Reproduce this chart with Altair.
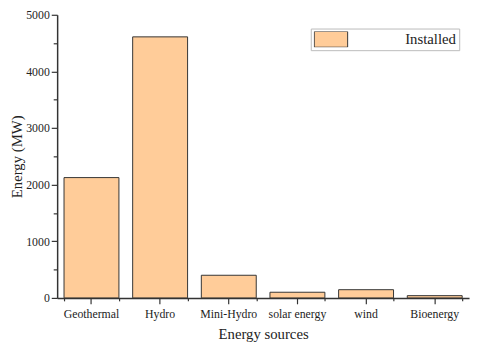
import altair as alt
import pandas as pd

categories = ["Geothermal", "Hydro", "Mini-Hydro", "solar energy", "wind", "Bioenergy"]
values = [2125, 4610, 400, 100, 145, 40]
series = ["Installed"] * len(categories)

df = pd.DataFrame({"source": categories, "energy": values, "series": series})

FONT = "Liberation Serif"
x_scale = alt.Scale(paddingInner=0.2, paddingOuter=0.1)
y_scale = alt.Scale(domain=[0, 5000], nice=False)

bars = alt.Chart(df).mark_bar(stroke="#333333", strokeWidth=1).encode(
    x=alt.X("source:N", sort=categories, scale=x_scale,
            axis=alt.Axis(title="Energy sources", labelAngle=0, tickSize=6,
                          labelPadding=5, titlePadding=7, orient="bottom")),
    y=alt.Y("energy:Q", scale=y_scale,
            axis=alt.Axis(title="Energy (MW)", values=[0, 1000, 2000, 3000, 4000, 5000],
                          format="d", tickSize=6, labelPadding=2, titlePadding=1,
                          orient="left")),
    color=alt.Color("series:N", scale=alt.Scale(range=["#FFCC99"]),
                    legend=alt.Legend(title=None, orient="none", legendX=258, legendY=14,
                                      padding=3, strokeColor="#bbbbbb", fillColor="white",
                                      symbolType="M-1,-0.47L1,-0.47L1,0.47L-1,0.47Z",
                                      symbolSize=1156, clipHeight=16,
                                      symbolStrokeColor="#333333", symbolStrokeWidth=1,
                                      symbolOpacity=1, labelOffset=58,
                                      labelFont=FONT, labelFontSize=15, labelColor="#222222")),
)

minor = alt.Chart(df).mark_bar(opacity=0).encode(
    x=alt.X("source:N", sort=categories, scale=x_scale,
            axis=alt.Axis(title=None, labels=False, domain=False, tickBand="extent",
                          tickSize=3, orient="bottom")),
    y=alt.Y("energy:Q", scale=y_scale,
            axis=alt.Axis(title=None, labels=False, domain=False,
                          values=[500, 1500, 2500, 3500, 4500], tickSize=4, orient="left")),
)

chart = alt.layer(minor, bars).resolve_axis(x="independent", y="independent").properties(
    width=419, height=288,
    autosize=alt.AutoSizeParams(type="none"),
    padding={"left": 50, "top": 4, "right": 3, "bottom": 45},
).configure_view(stroke=None).configure_axis(
    labelFont=FONT, titleFont=FONT, labelFontSize=12, titleFontSize=15,
    titleFontWeight="normal", labelColor="#222222", titleColor="#222222",
    domainColor="#333333", tickColor="#333333", domainWidth=1.5, tickWidth=1.2, grid=False,
)

chart.save("out.html", embed_options={"renderer": "svg", "actions": False})
